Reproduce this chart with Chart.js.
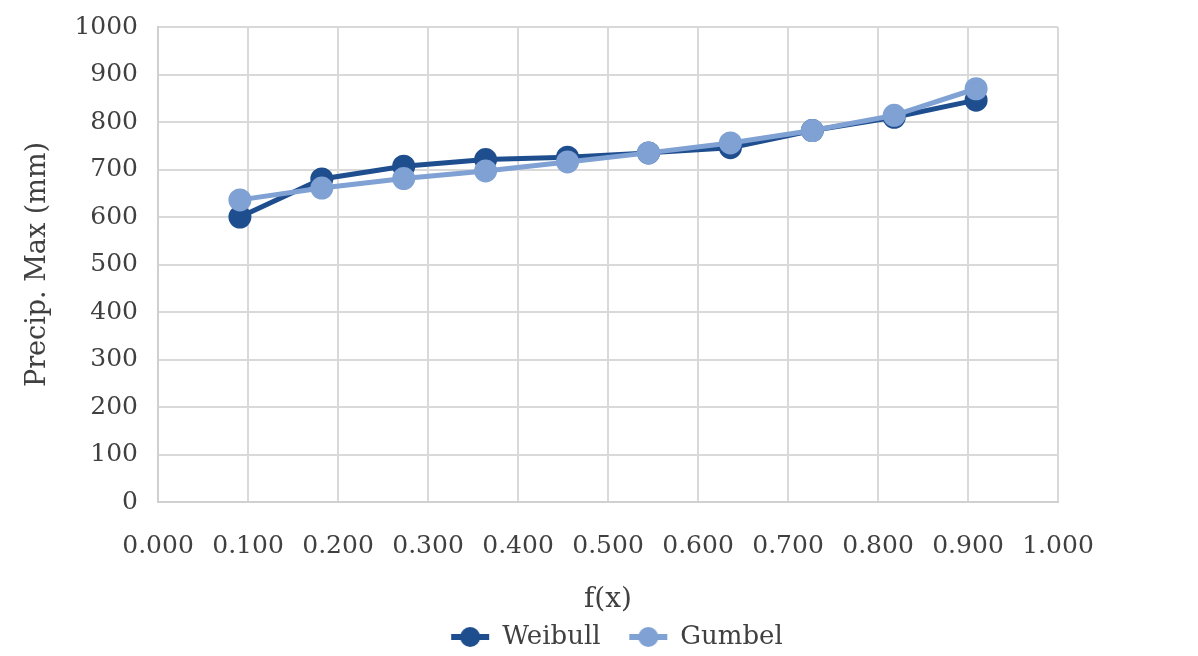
<!DOCTYPE html>
<html>
<head>
<meta charset="utf-8">
<script src="https://cdn.jsdelivr.net/npm/chart.js@4"></script>
<style>
  html, body { margin: 0; padding: 0; background: #fff; }
  #wrap { width: 1198px; height: 656px; }
</style>
</head>
<body>
<div id="wrap"><canvas id="chart" width="1198" height="656"></canvas></div>
<script>
const fx = [0.091, 0.182, 0.273, 0.364, 0.455, 0.545, 0.636, 0.727, 0.818, 0.909];
const weibull = [600, 680, 707, 721, 726, 735, 746, 782, 810, 846];
const gumbel = [636, 661, 681, 697, 716, 735, 756, 782, 814, 870];

const weibullColor = "#1F4E8F";
const gumbelColor = "#7FA1D3";
const font = "'DejaVu Serif', serif";

// small line + dot marker for the legend
function legendMarker(color) {
    const c = document.createElement("canvas");
    c.width = 40; c.height = 22;
    const g = c.getContext("2d");
    g.strokeStyle = color;
    g.lineWidth = 6;
    g.beginPath();
    g.moveTo(1, 11); g.lineTo(39, 11);
    g.stroke();
    g.fillStyle = color;
    g.beginPath();
    g.arc(20, 11, 10, 0, Math.PI * 2);
    g.fill();
    return c;
}

const toPoints = (ys) => ys.map((y, i) => ({ x: fx[i], y: y }));

// legend sits centred under the whole picture, not just the padded area
const legendShift = {
    id: "legendShift",
    afterLayout(chart) {
        chart.legend.left = 36;
        chart.legend.right = 1198;
    }
};

const ctx = document.getElementById("chart").getContext("2d");
new Chart(ctx, {
    type: "line",
    plugins: [legendShift],
    data: {
        datasets: [{
            label: "Weibull",
            data: toPoints(weibull),
            borderColor: weibullColor,
            backgroundColor: weibullColor,
            borderWidth: 5,
            pointRadius: 9,
            pointHoverRadius: 9,
            tension: 0,
            order: 1
        }, {
            label: "Gumbel",
            data: toPoints(gumbel),
            borderColor: gumbelColor,
            backgroundColor: gumbelColor,
            borderWidth: 5,
            pointRadius: 9,
            pointHoverRadius: 9,
            tension: 0,
            order: 0
        }]
    },
    options: {
        responsive: false,
        animation: false,
        layout: { padding: { left: 22, right: 140, top: 0, bottom: -4 } },
        plugins: {
            tooltip: { enabled: false },
            legend: {
                position: "bottom",
                labels: {
                    usePointStyle: true,
                    pointStyleWidth: 38,
                    font: { family: font, size: 26 },
                    color: "#404040",
                    padding: 4,
                    sort: (a, b) => a.datasetIndex - b.datasetIndex,
                    generateLabels: (chart) => chart.data.datasets.map((ds, i) => ({
                        text: i === 0 ? ds.label + "   " : ds.label,
                        pointStyle: legendMarker(ds.borderColor),
                        fillStyle: ds.borderColor,
                        strokeStyle: ds.borderColor,
                        lineWidth: 0,
                        fontColor: "#404040",
                        datasetIndex: i,
                        hidden: false
                    }))
                }
            }
        },
        scales: {
            x: {
                type: "linear",
                min: 0,
                max: 1,
                afterFit: (s) => { s.height = 118; },
                ticks: {
                    stepSize: 0.1,
                    callback: (v) => v.toFixed(3),
                    font: { family: font, size: 25 },
                    color: "#404040",
                    padding: 29,
                    maxRotation: 0
                },
                grid: { color: "#D9D9D9", lineWidth: 2, drawTicks: false },
                border: { color: "#D0D0D0", width: 2 },
                title: {
                    display: true,
                    text: "f(x)",
                    font: { family: font, size: 28 },
                    color: "#404040",
                    padding: { top: 0, bottom: 3 }
                }
            },
            y: {
                min: 0,
                max: 1000,
                afterFit: (s) => { s.paddingTop = 27; },
                ticks: {
                    stepSize: 100,
                    callback: (v) => String(v),
                    font: { family: font, size: 25 },
                    color: "#404040",
                    padding: 20
                },
                grid: { color: "#D9D9D9", lineWidth: 2, drawTicks: false },
                border: { color: "#D0D0D0", width: 2 },
                title: {
                    display: true,
                    text: "Precip. Max (mm)",
                    font: { family: font, size: 27 },
                    color: "#404040",
                    padding: { top: 0, bottom: 0 }
                }
            }
        }
    }
});
</script>
</body>
</html>
